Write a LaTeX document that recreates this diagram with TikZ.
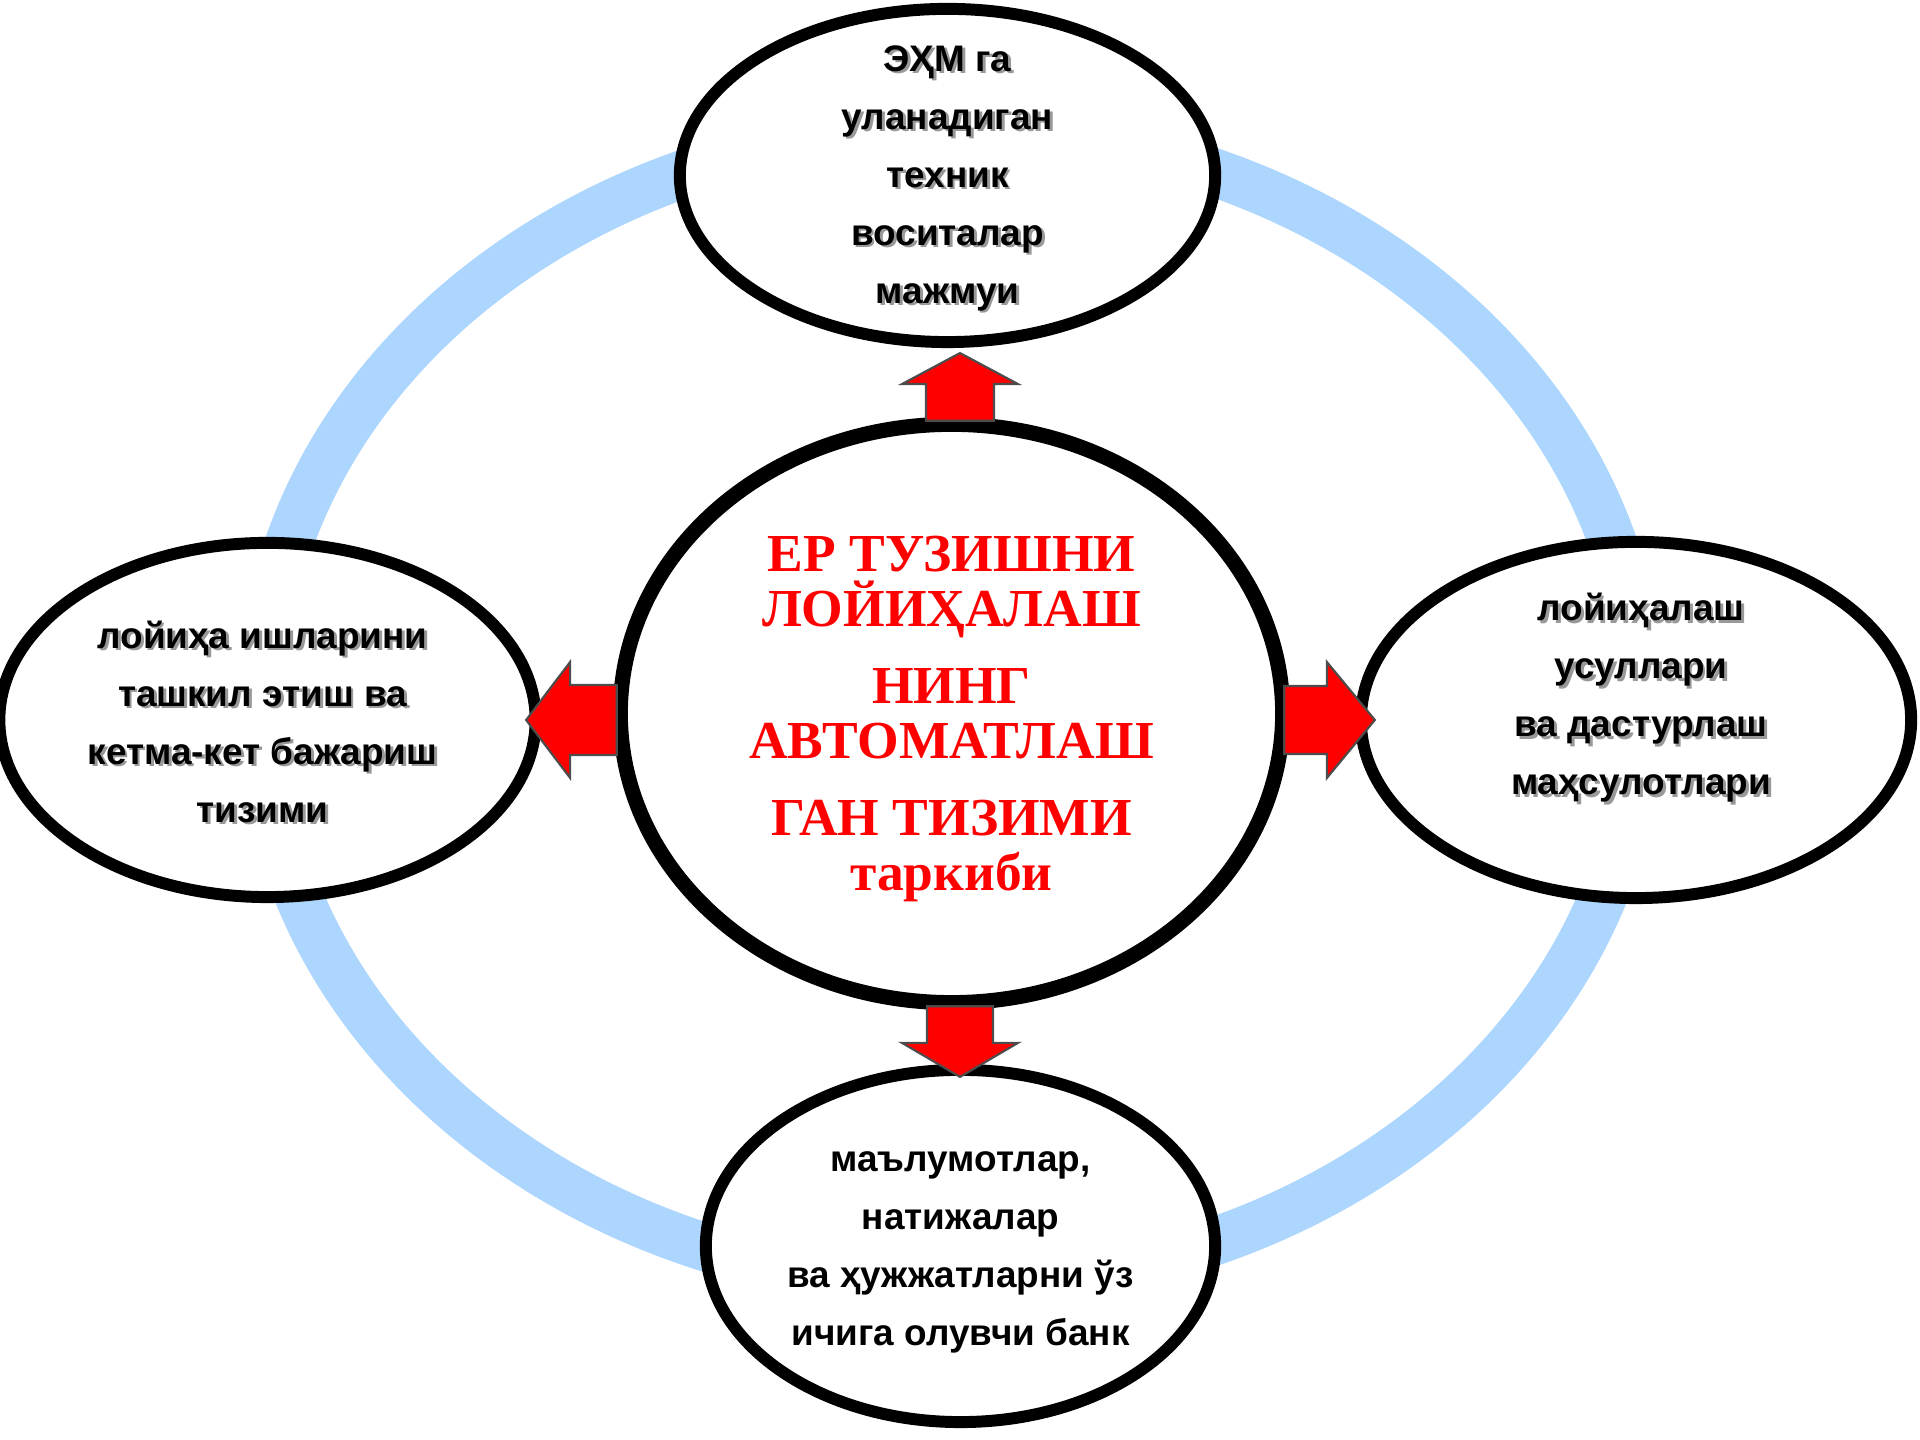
\documentclass[tikz,border=0pt]{standalone}
\usepackage{fontspec}
\setmainfont{Liberation Serif}
\setsansfont{Liberation Sans}
\usetikzlibrary{shapes.geometric,calc}
\definecolor{ringblue}{RGB}{173,214,255}
\newcommand{\shd}[1]{\makebox[0pt][l]{\kern0.8pt\raisebox{-0.8pt}{\textcolor{black!40}{#1}}}#1}

\begin{document}
\begin{tikzpicture}[x=0.01cm,y=0.01cm,
    bubble/.style={ellipse,draw,line width=3.4pt,fill=white,inner sep=0pt},
    hub/.style={ellipse,draw,line width=4.3pt,fill=white,inner sep=0pt},
    blockarrow/.style={draw=black!70,line width=0.6pt,fill=red,line join=miter},
    lbl/.style={align=center,font=\sffamily\bfseries\fontsize{10.5}{16.5}\selectfont},
    hubtext/.style={align=center,text=red,font=\rmfamily\bfseries\fontsize{15.2}{15.6}\selectfont}]
  \useasboundingbox (0,0) rectangle (1920,1440);
  % Draw the blue ring behind everything
  \draw[ringblue,line width=13.7pt] (951,733) ellipse [x radius=690,y radius=578];
  % Draw the four outer ellipses
  \node[bubble,minimum width=5.35cm,minimum height=3.33cm] (top) at (947.5,1264.5) {};
  \node[bubble,minimum width=5.36cm,minimum height=3.54cm] (left) at (267.5,720) {};
  \node[bubble,minimum width=5.5cm,minimum height=3.56cm] (right) at (1636,720) {};
  \node[bubble,minimum width=5.09cm,minimum height=3.52cm] (bottom) at (960.5,194) {};
  % Central ellipse
  \node[hub,minimum width=6.62cm,minimum height=5.78cm] (hub) at (951.5,726.5) {};
  % Tips and bases of the red block arrows
  \coordinate (tipN) at ($(top.south)+(12.5,-5)$);
  \coordinate (tipS) at ($(bottom.north)+(-0.5,-13)$);
  \coordinate (tipW) at ($(left.east)+(-15.5,0)$);
  \coordinate (tipE) at ($(right.west)+(20,0)$);
  \coordinate (bN) at ($(tipN |- hub.north)+(0,-4)$);
  \coordinate (bS) at ($(tipS |- hub.south)+(0,4)$);
  \coordinate (bW) at ($(tipW -| hub.west)+(4,0)$);
  \coordinate (bE) at ($(tipE -| hub.east)+(-6,0)$);
  \draw[blockarrow] ($(bN)+(-34,0)$) -- ($(tipN)+(-34,-31)$) -- ($(tipN)+(-58,-31)$) -- (tipN)
    -- ($(tipN)+(58,-31)$) -- ($(tipN)+(34,-31)$) -- ($(bN)+(34,0)$) -- cycle;
  \draw[blockarrow] ($(bS)+(-33,0)$) -- ($(tipS)+(-33,34)$) -- ($(tipS)+(-58,34)$) -- (tipS)
    -- ($(tipS)+(58,34)$) -- ($(tipS)+(33,34)$) -- ($(bS)+(33,0)$) -- cycle;
  \draw[blockarrow] ($(bW)+(0,35)$) -- ($(tipW)+(44,35)$) -- ($(tipW)+(44,58)$) -- (tipW)
    -- ($(tipW)+(44,-58)$) -- ($(tipW)+(44,-35)$) -- ($(bW)+(0,-35)$) -- cycle;
  \draw[blockarrow] ($(bE)+(0,34)$) -- ($(tipE)+(-48,34)$) -- ($(tipE)+(-48,58)$) -- (tipE)
    -- ($(tipE)+(-48,-58)$) -- ($(tipE)+(-48,-34)$) -- ($(bE)+(0,-34)$) -- cycle;
  % Texts
  \node[hubtext] (hubt) at ($(hub)+(0,-5.5)$) {ЕР ТУЗИШНИ\\ ЛОЙИҲАЛАШ\\[6.3pt] НИНГ\\ АВТОМАТЛАШ\\[6.3pt] ГАН ТИЗИМИ\\ таркиби};
  \node[lbl] (topt) at ($(top)+(0,-4)$) {\shd{ЭҲМ га}\\ \shd{уланадиган}\\ \shd{техник}\\ \shd{воситалар}\\ \shd{мажмуи}};
  \node[lbl] (leftt) at ($(left)+(-5,-3)$) {\shd{лойиҳа ишларини}\\ \shd{ташкил этиш ва}\\ \shd{кетма-кет бажариш}\\ \shd{тизими}};
  \node[lbl] (rightt) at ($(right)+(5,21)$) {\shd{лойиҳалаш}\\ \shd{усуллари}\\ \shd{ва дастурлаш}\\ \shd{маҳсулотлари}};
  \node[lbl] (bottomt) at ($(bottom)+(0,-6)$) {маълумотлар,\\ натижалар\\ ва ҳужжатларни ўз\\ ичига олувчи банк};
\end{tikzpicture}
\end{document}
